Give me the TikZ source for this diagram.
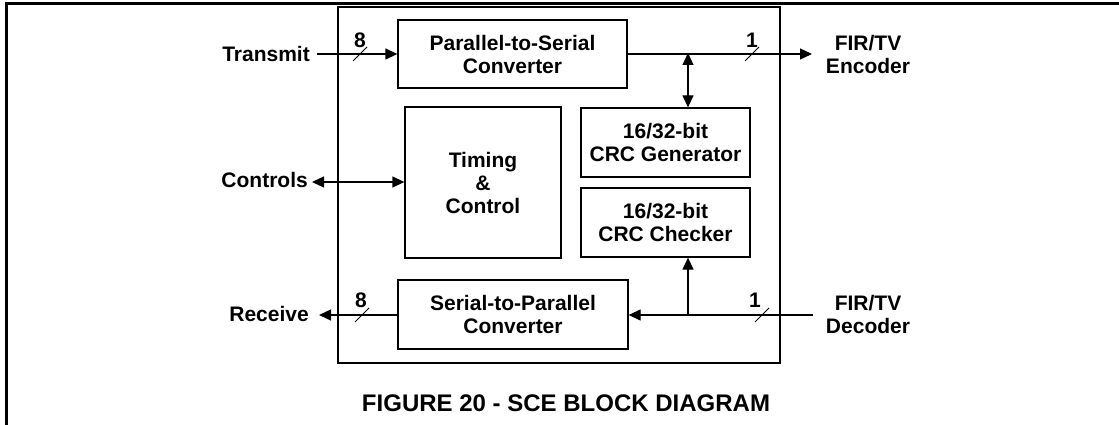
\documentclass[tikz,border=0pt]{standalone}
\usepackage{fontspec}
\setmainfont{Liberation Sans}
\usetikzlibrary{arrows.meta}
\begin{document}
\begin{tikzpicture}[x=1pt,y=-1pt,
  txt/.style={font=\fontsize{21}{23}\selectfont\bfseries, inner sep=0pt, align=center},
  blk/.style={draw, line width=1.3pt, inner sep=0pt, txt},
  wire/.style={line width=1.3pt},
  arr/.style={wire, -{Triangle[length=12pt,width=11pt]}},
  darr/.style={wire, {Triangle[length=12pt,width=11pt]}-{Triangle[length=12pt,width=11pt]}},
  slashmark/.style={line width=1pt},
  buslbl/.style={font=\fontsize{21}{23}\selectfont\bfseries, inner sep=0pt}
]
\useasboundingbox (0,0) rectangle (1119,425);
% outer frame (partial)
\draw[line width=3pt] (6,425) -- (6,4) -- (1119,4);
% main box
\draw[line width=1.5pt] (338,7) rectangle (780,363);

% blocks
\node[blk, minimum width=229pt, minimum height=68pt] (p2s) at (512.5,54) {Parallel-to-Serial\\Converter};
\node[blk, minimum width=156pt, minimum height=151pt] (tim) at (483,182.5) {Timing\\\&\\Control};
\node[blk, minimum width=169pt, minimum height=69pt] (gen) at (665.5,142.5) {16/32-bit\\CRC Generator};
\node[blk, minimum width=169pt, minimum height=69pt] (chk) at (665.5,222.5) {16/32-bit\\CRC Checker};
\node[blk, minimum width=230pt, minimum height=69pt] (s2p) at (513,314.5) {Serial-to-Parallel\\Converter};

% external labels
\node[txt, anchor=east] (tx) at (310,54) {Transmit};
\node[txt, anchor=east] (ctl) at (308,180) {Controls};
\node[txt, anchor=east] (rx) at (309,314) {Receive};
\node[txt] (enc) at (868,54) {FIR/TV\\Encoder};
\node[txt] (dec) at (868,314) {FIR/TV\\Decoder};

\coordinate (txs) at (317,54);
\coordinate (enct) at (812,54);
\coordinate (ctls) at (312,182);
\coordinate (decs) at (813,315);
\coordinate (rxt) at (319,315);
\coordinate (tap) at (688,54);
\coordinate (br) at (688,315);

% connectors
\draw[arr] (txs) -- (p2s.west |- txs);
\draw[arr] (p2s.east |- tap) -- (enct);
\draw[darr] ([yshift=1pt]tap) -- (tap |- gen.north);
\draw[darr] (ctls) -- (tim.west |- ctls);
\draw[arr] (decs) -- (s2p.east |- decs);
\draw[arr] (br) -- (br |- chk.south);
\draw[arr] (s2p.west |- rxt) -- (rxt);

% bus slashes and widths
\draw[slashmark] (353,61) -- (367,47);
\node[buslbl] (b8a) at (360,40) {8};
\draw[slashmark] (745,61) -- (759,47);
\node[buslbl] (b1a) at (752,40) {1};
\draw[slashmark] (755,322) -- (769,308);
\node[buslbl] (b1b) at (755,300) {1};
\draw[slashmark] (355,322) -- (369,308);
\node[buslbl] (b8b) at (361,300) {8};

% caption
\node[font=\fontsize{24}{26}\selectfont\bfseries, inner sep=0pt] (cap) at (566,403) {FIGURE 20 - SCE BLOCK DIAGRAM};
\end{tikzpicture}
\end{document}
